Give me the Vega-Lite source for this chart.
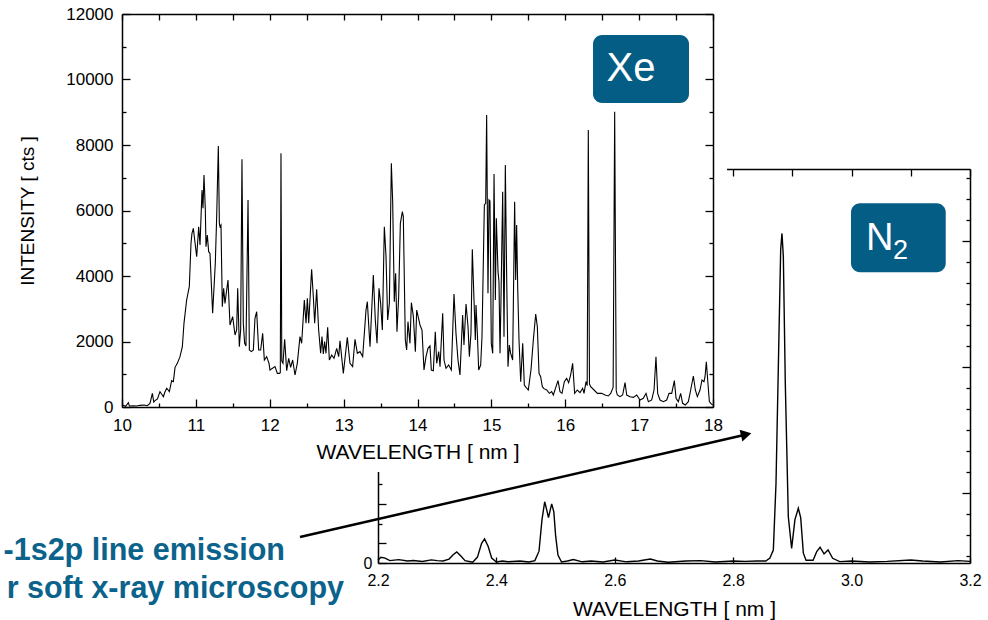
{
  "$schema": "https://vega.github.io/schema/vega-lite/v6.json",
  "width": 988,
  "height": 620,
  "padding": 0,
  "autosize": {"type": "none"},
  "background": "white",
  "config": {
    "view": {"stroke": null},
    "font": "Liberation Sans",
    "axis": {
      "grid": false,
      "labelFont": "Liberation Sans",
      "titleFont": "Liberation Sans",
      "labelColor": "#000",
      "titleColor": "#000",
      "tickColor": "#000",
      "domainColor": "#000",
      "titleFontWeight": "normal",
      "labelFlush": false,
      "labelOverlap": false,
      "labelBound": false,
      "domainWidth": 1.5,
      "tickWidth": 1.3
    }
  },
  "datasets": {
    "xe": [
      {"w":10.0,"i":40},{"w":10.018,"i":51},{"w":10.05,"i":20},{"w":10.086,"i":132},{"w":10.1,"i":30},{"w":10.15,"i":40},{"w":10.2,"i":30},{"w":10.244,"i":51},{"w":10.3,"i":60},{"w":10.34,"i":40},{"w":10.379,"i":112},{"w":10.411,"i":417},{"w":10.43,"i":150},{"w":10.447,"i":193},{"w":10.48,"i":250},{"w":10.514,"i":468},{"w":10.54,"i":380},{"w":10.56,"i":315},{"w":10.58,"i":450},{"w":10.605,"i":570},{"w":10.625,"i":520},{"w":10.641,"i":468},{"w":10.672,"i":804},{"w":10.695,"i":773},{"w":10.718,"i":1211},{"w":10.749,"i":1333},{"w":10.785,"i":1537},{"w":10.817,"i":1842},{"w":10.839,"i":2555},{"w":10.875,"i":3267},{"w":10.911,"i":3674},{"w":10.934,"i":4997},{"w":10.947,"i":5303},{"w":10.966,"i":5455},{"w":10.984,"i":5099},{"w":11.011,"i":4590},{"w":11.038,"i":5506},{"w":11.056,"i":4947},{"w":11.083,"i":6626},{"w":11.096,"i":6066},{"w":11.11,"i":7084},{"w":11.128,"i":6015},{"w":11.137,"i":4896},{"w":11.155,"i":5252},{"w":11.173,"i":4743},{"w":11.191,"i":4692},{"w":11.227,"i":2860},{"w":11.263,"i":4387},{"w":11.281,"i":5761},{"w":11.304,"i":7969},{"w":11.318,"i":5600},{"w":11.327,"i":5506},{"w":11.34,"i":5557},{"w":11.358,"i":3063},{"w":11.376,"i":3623},{"w":11.394,"i":3165},{"w":11.417,"i":3572},{"w":11.435,"i":3878},{"w":11.462,"i":2504},{"w":11.498,"i":2758},{"w":11.53,"i":2198},{"w":11.552,"i":2351},{"w":11.566,"i":3623},{"w":11.588,"i":1842},{"w":11.606,"i":2351},{"w":11.624,"i":7562},{"w":11.642,"i":2555},{"w":11.66,"i":1944},{"w":11.678,"i":1863},{"w":11.706,"i":6321},{"w":11.724,"i":1740},{"w":11.751,"i":1690},{"w":11.778,"i":1740},{"w":11.8,"i":2707},{"w":11.823,"i":2911},{"w":11.85,"i":1740},{"w":11.877,"i":1740},{"w":11.904,"i":2249},{"w":11.927,"i":1435},{"w":11.958,"i":1537},{"w":11.99,"i":1333},{"w":12.003,"i":1130},{"w":12.071,"i":1232},{"w":12.103,"i":1028},{"w":12.13,"i":1028},{"w":12.143,"i":1050},{"w":12.152,"i":7745},{"w":12.163,"i":1400},{"w":12.179,"i":1333},{"w":12.202,"i":2066},{"w":12.229,"i":1109},{"w":12.256,"i":1486},{"w":12.283,"i":1211},{"w":12.31,"i":1435},{"w":12.342,"i":977},{"w":12.373,"i":1333},{"w":12.409,"i":2148},{"w":12.432,"i":1944},{"w":12.468,"i":3267},{"w":12.491,"i":2555},{"w":12.509,"i":3318},{"w":12.527,"i":2555},{"w":12.567,"i":4204},{"w":12.59,"i":3369},{"w":12.608,"i":2555},{"w":12.635,"i":3593},{"w":12.662,"i":2351},{"w":12.689,"i":1639},{"w":12.707,"i":2148},{"w":12.725,"i":1618},{"w":12.743,"i":1995},{"w":12.761,"i":1639},{"w":12.784,"i":2433},{"w":12.807,"i":1435},{"w":12.838,"i":1588},{"w":12.87,"i":1486},{"w":12.906,"i":1791},{"w":12.933,"i":1537},{"w":12.951,"i":2025},{"w":12.996,"i":1028},{"w":13.05,"i":2127},{"w":13.086,"i":1333},{"w":13.122,"i":1232},{"w":13.154,"i":2066},{"w":13.186,"i":1639},{"w":13.222,"i":1690},{"w":13.258,"i":1537},{"w":13.303,"i":2962},{"w":13.321,"i":3216},{"w":13.357,"i":1842},{"w":13.402,"i":4030},{"w":13.429,"i":2656},{"w":13.452,"i":1944},{"w":13.479,"i":3623},{"w":13.501,"i":3165},{"w":13.524,"i":2351},{"w":13.551,"i":5506},{"w":13.574,"i":4590},{"w":13.596,"i":2656},{"w":13.619,"i":3165},{"w":13.646,"i":7440},{"w":13.664,"i":6270},{"w":13.686,"i":3216},{"w":13.704,"i":4081},{"w":13.722,"i":2300},{"w":13.745,"i":3369},{"w":13.768,"i":5608},{"w":13.795,"i":5964},{"w":13.808,"i":5812},{"w":13.835,"i":2046},{"w":13.853,"i":1740},{"w":13.871,"i":2606},{"w":13.898,"i":1944},{"w":13.917,"i":3186},{"w":13.944,"i":2758},{"w":13.971,"i":1690},{"w":13.989,"i":2962},{"w":14.034,"i":2504},{"w":14.061,"i":2351},{"w":14.088,"i":1130},{"w":14.115,"i":1537},{"w":14.142,"i":1791},{"w":14.169,"i":1863},{"w":14.187,"i":1130},{"w":14.214,"i":1109},{"w":14.241,"i":2300},{"w":14.26,"i":1333},{"w":14.287,"i":1690},{"w":14.305,"i":1232},{"w":14.341,"i":2860},{"w":14.359,"i":1435},{"w":14.386,"i":1181},{"w":14.422,"i":1282},{"w":14.458,"i":1130},{"w":14.494,"i":3450},{"w":14.521,"i":2249},{"w":14.548,"i":1435},{"w":14.575,"i":977},{"w":14.611,"i":2809},{"w":14.629,"i":1893},{"w":14.657,"i":3145},{"w":14.684,"i":2453},{"w":14.702,"i":1537},{"w":14.724,"i":2249},{"w":14.742,"i":4814},{"w":14.765,"i":3267},{"w":14.783,"i":2046},{"w":14.792,"i":3114},{"w":14.81,"i":2249},{"w":14.828,"i":1130},{"w":14.855,"i":1282},{"w":14.873,"i":2148},{"w":14.905,"i":6168},{"w":14.923,"i":6219},{"w":14.936,"i":8916},{"w":14.954,"i":3471},{"w":14.968,"i":6321},{"w":14.981,"i":6290},{"w":14.999,"i":1944},{"w":15.018,"i":1639},{"w":15.036,"i":7114},{"w":15.054,"i":3267},{"w":15.067,"i":5761},{"w":15.09,"i":4132},{"w":15.103,"i":3827},{"w":15.117,"i":1639},{"w":15.13,"i":3267},{"w":15.153,"i":6575},{"w":15.171,"i":2148},{"w":15.189,"i":7389},{"w":15.207,"i":3980},{"w":15.225,"i":1232},{"w":15.243,"i":1893},{"w":15.261,"i":1639},{"w":15.288,"i":1435},{"w":15.315,"i":6270},{"w":15.329,"i":3878},{"w":15.342,"i":5557},{"w":15.356,"i":3674},{"w":15.374,"i":2046},{"w":15.397,"i":773},{"w":15.424,"i":1944},{"w":15.446,"i":672},{"w":15.469,"i":601},{"w":15.5,"i":519},{"w":15.536,"i":1130},{"w":15.568,"i":2046},{"w":15.6,"i":2840},{"w":15.622,"i":2453},{"w":15.645,"i":1028},{"w":15.667,"i":926},{"w":15.69,"i":621},{"w":15.712,"i":560},{"w":15.749,"i":519},{"w":15.785,"i":417},{"w":15.816,"i":468},{"w":15.839,"i":366},{"w":15.875,"i":621},{"w":15.902,"i":804},{"w":15.929,"i":468},{"w":15.956,"i":417},{"w":15.988,"i":773},{"w":16.019,"i":875},{"w":16.046,"i":743},{"w":16.073,"i":977},{"w":16.1,"i":1333},{"w":16.127,"i":417},{"w":16.163,"i":519},{"w":16.2,"i":438},{"w":16.236,"i":570},{"w":16.254,"i":417},{"w":16.281,"i":773},{"w":16.297,"i":650},{"w":16.312,"i":8458},{"w":16.328,"i":700},{"w":16.344,"i":621},{"w":16.39,"i":519},{"w":16.435,"i":417},{"w":16.493,"i":417},{"w":16.538,"i":366},{"w":16.583,"i":336},{"w":16.615,"i":417},{"w":16.648,"i":600},{"w":16.669,"i":9018},{"w":16.69,"i":500},{"w":16.705,"i":366},{"w":16.741,"i":315},{"w":16.777,"i":366},{"w":16.809,"i":743},{"w":16.832,"i":366},{"w":16.877,"i":315},{"w":16.922,"i":295},{"w":16.967,"i":366},{"w":17.012,"i":214},{"w":17.057,"i":265},{"w":17.093,"i":417},{"w":17.125,"i":163},{"w":17.17,"i":214},{"w":17.202,"i":519},{"w":17.228,"i":1537},{"w":17.251,"i":417},{"w":17.283,"i":214},{"w":17.328,"i":163},{"w":17.373,"i":214},{"w":17.405,"i":417},{"w":17.441,"i":417},{"w":17.477,"i":804},{"w":17.5,"i":265},{"w":17.531,"i":163},{"w":17.562,"i":417},{"w":17.589,"i":112},{"w":17.625,"i":61},{"w":17.666,"i":163},{"w":17.698,"i":519},{"w":17.734,"i":947},{"w":17.761,"i":519},{"w":17.788,"i":315},{"w":17.824,"i":519},{"w":17.851,"i":824},{"w":17.878,"i":773},{"w":17.892,"i":926},{"w":17.91,"i":1384},{"w":17.928,"i":824},{"w":17.951,"i":163},{"w":17.969,"i":112},{"w":17.996,"i":61}
    ],
    "n2": [
      {"w":2.2,"i":0.15},{"w":2.205,"i":0.29},{"w":2.212,"i":0.25},{"w":2.22,"i":0.12},{"w":2.235,"i":0.17},{"w":2.25,"i":0.1},{"w":2.26,"i":0.13},{"w":2.275,"i":0.08},{"w":2.29,"i":0.16},{"w":2.3,"i":0.12},{"w":2.31,"i":0.1},{"w":2.32,"i":0.2},{"w":2.327,"i":0.42},{"w":2.333,"i":0.56},{"w":2.34,"i":0.35},{"w":2.347,"i":0.12},{"w":2.36,"i":0.04},{"w":2.368,"i":0.3},{"w":2.375,"i":1.0},{"w":2.38,"i":1.22},{"w":2.386,"i":0.85},{"w":2.392,"i":0.25},{"w":2.4,"i":0.05},{"w":2.41,"i":0.1},{"w":2.42,"i":0.06},{"w":2.44,"i":0.1},{"w":2.455,"i":0.05},{"w":2.465,"i":0.12},{"w":2.472,"i":0.6},{"w":2.477,"i":2.2},{"w":2.4816,"i":3.11},{"w":2.485,"i":2.7},{"w":2.488,"i":2.3},{"w":2.491,"i":2.7},{"w":2.4934,"i":3.0},{"w":2.497,"i":2.6},{"w":2.5,"i":1.4},{"w":2.504,"i":0.4},{"w":2.51,"i":0.05},{"w":2.52,"i":0.1},{"w":2.53,"i":0.18},{"w":2.545,"i":0.06},{"w":2.56,"i":0.1},{"w":2.58,"i":0.05},{"w":2.6,"i":0.15},{"w":2.62,"i":0.06},{"w":2.64,"i":0.1},{"w":2.66,"i":0.2},{"w":2.672,"i":0.1},{"w":2.69,"i":0.04},{"w":2.72,"i":0.1},{"w":2.745,"i":0.12},{"w":2.77,"i":0.05},{"w":2.8,"i":0.1},{"w":2.82,"i":0.08},{"w":2.84,"i":0.1},{"w":2.855,"i":0.1},{"w":2.862,"i":0.25},{"w":2.8678,"i":0.66},{"w":2.8723,"i":4.04},{"w":2.8768,"i":10.8},{"w":2.8802,"i":15.9},{"w":2.8824,"i":16.73},{"w":2.8847,"i":15.55},{"w":2.888,"i":9.12},{"w":2.8931,"i":2.35},{"w":2.8987,"i":0.74},{"w":2.9043,"i":2.2},{"w":2.91,"i":2.78},{"w":2.914,"i":2.3},{"w":2.9185,"i":0.5},{"w":2.923,"i":0.14},{"w":2.935,"i":0.14},{"w":2.9411,"i":0.58},{"w":2.9467,"i":0.8},{"w":2.9535,"i":0.46},{"w":2.9602,"i":0.66},{"w":2.968,"i":0.24},{"w":2.98,"i":0.07},{"w":3.0,"i":0.1},{"w":3.03,"i":0.05},{"w":3.06,"i":0.08},{"w":3.1,"i":0.15},{"w":3.12,"i":0.1},{"w":3.15,"i":0.05},{"w":3.18,"i":0.12},{"w":3.2,"i":0.08}
    ],
    "xeAx": [{"w": 10, "i": 0}],
    "n2Ax": [{"w": 2.2, "i": 0}],
    "cover": [{"x1": 9.5, "x2": 18.19, "y1": -1985, "y2": 12000}],
    "xeBox": [{"x1": 16.376, "x2": 17.675, "y1": 9282, "y2": 11359, "x": 16.89, "y": 9963, "t": "Xe"}],
    "arrow": [{"x1": 12.4095, "y1": -3969, "x2": 18.406, "y2": -861}],
    "head": [{"x": 18.449, "y": -837}],
    "blue": [{"x": 12.206, "y": -4672, "t": "-1s2p line emission"}, {"x": 13.005, "y": -5832, "t": "r soft x-ray microscopy"}],
    "n2Box": [{"x1": 2.999, "x2": 3.159, "y1": 14.76, "y2": 18.26}],
    "n2N": [{"x": 3.0243, "y": 15.89, "t": "N"}],
    "n2Sub": [{"x": 3.0699, "y": 15.43, "t": "2"}]
  },
  "resolve": {"scale": {"x": "independent", "y": "independent"}, "axis": {"x": "independent", "y": "independent"}},
  "layer": [
    {
      "resolve": {"axis": {"x": "independent", "y": "independent"}},
      "layer": [
        {
          "data": {"name": "n2"},
          "mark": {"type": "line", "color": "#000", "strokeWidth": 1.4},
          "encoding": {
            "x": {"field": "w", "type": "quantitative", "scale": {"domain": [2.2, 3.2], "range": [378, 970], "nice": false, "zero": false},
              "axis": {"orient": "bottom", "offset": -57, "values": [2.2, 2.4, 2.6, 2.8, 3.0, 3.2], "format": ".1f", "tickSize": -6, "labelFontSize": 16, "labelPadding": 15, "title": "WAVELENGTH [ nm ]", "titleFontSize": 21, "titlePadding": 10, "zindex": 0}},
            "y": {"field": "i", "type": "quantitative", "scale": {"domain": [0, 20], "range": [563, 169], "nice": false, "zero": false},
              "axis": {"orient": "left", "offset": -378, "values": [0, 1, 3, 5, 7, 9, 11, 13, 15, 17, 19], "labelExpr": "datum.value == 0 ? '0' : ''", "tickSize": -8, "labelFontSize": 16, "labelPadding": 14, "title": null, "zindex": 0}}
          }
        },
        {
          "data": {"name": "n2Ax"},
          "mark": {"type": "point", "opacity": 0},
          "encoding": {
            "x": {"field": "w", "type": "quantitative", "scale": {"domain": [2.2, 3.2], "range": [378, 970], "nice": false, "zero": false},
              "axis": {"orient": "top", "offset": -169, "values": [2.2, 2.3, 2.4, 2.5, 2.6, 2.7, 2.8, 2.9, 3.0, 3.1, 3.2], "tickSize": -7, "labels": false, "title": null, "zindex": 0}},
            "y": {"field": "i", "type": "quantitative", "scale": {"domain": [0, 20], "range": [563, 169], "nice": false, "zero": false},
              "axis": {"orient": "right", "offset": -18, "values": [3.55, 9.95, 16.35], "tickSize": -8, "labels": false, "title": null, "zindex": 0}}
          }
        },
        {
          "data": {"name": "n2Ax"},
          "mark": {"type": "point", "opacity": 0},
          "encoding": {
            "x": {"field": "w", "type": "quantitative", "scale": {"domain": [2.2, 3.2], "range": [378, 970], "nice": false, "zero": false}, "axis": null},
            "y": {"field": "i", "type": "quantitative", "scale": {"domain": [0, 20], "range": [563, 169], "nice": false, "zero": false},
              "axis": {"orient": "left", "offset": -378, "values": [2, 4, 6, 8, 10, 12, 14, 16, 18], "tickSize": -4, "labels": false, "domain": false, "title": null, "zindex": 0}}
          }
        },
        {
          "data": {"name": "n2Ax"},
          "mark": {"type": "point", "opacity": 0},
          "encoding": {
            "x": {"field": "w", "type": "quantitative", "scale": {"domain": [2.2, 3.2], "range": [378, 970], "nice": false, "zero": false}, "axis": null},
            "y": {"field": "i", "type": "quantitative", "scale": {"domain": [0, 20], "range": [563, 169], "nice": false, "zero": false},
              "axis": {"orient": "right", "offset": -18, "values": [0.35, 1.417, 2.483, 4.617, 5.683, 6.75, 7.817, 8.883, 11.017, 12.083, 13.15, 14.217, 15.283, 17.417, 18.483, 19.55], "tickSize": -4, "labels": false, "domain": false, "title": null, "zindex": 0}}
          }
        },
        {
          "data": {"name": "n2Box"},
          "mark": {"type": "rect", "color": "#035d84", "cornerRadius": 9},
          "encoding": {
            "x": {"field": "x1", "type": "quantitative", "scale": {"domain": [2.2, 3.2], "range": [378, 970], "nice": false, "zero": false}, "axis": null},
            "x2": {"field": "x2"},
            "y": {"field": "y1", "type": "quantitative", "scale": {"domain": [0, 20], "range": [563, 169], "nice": false, "zero": false}, "axis": null},
            "y2": {"field": "y2"}
          }
        },
        {
          "data": {"name": "n2N"},
          "mark": {"type": "text", "color": "white", "fontSize": 38, "align": "left", "baseline": "alphabetic", "font": "Liberation Sans"},
          "encoding": {
            "x": {"field": "x", "type": "quantitative", "scale": {"domain": [2.2, 3.2], "range": [378, 970], "nice": false, "zero": false}, "axis": null},
            "y": {"field": "y", "type": "quantitative", "scale": {"domain": [0, 20], "range": [563, 169], "nice": false, "zero": false}, "axis": null},
            "text": {"field": "t"}
          }
        },
        {
          "data": {"name": "n2Sub"},
          "mark": {"type": "text", "color": "white", "fontSize": 27, "align": "left", "baseline": "alphabetic", "font": "Liberation Sans"},
          "encoding": {
            "x": {"field": "x", "type": "quantitative", "scale": {"domain": [2.2, 3.2], "range": [378, 970], "nice": false, "zero": false}, "axis": null},
            "y": {"field": "y", "type": "quantitative", "scale": {"domain": [0, 20], "range": [563, 169], "nice": false, "zero": false}, "axis": null},
            "text": {"field": "t"}
          }
        }
      ]
    },
    {
      "resolve": {"axis": {"x": "independent", "y": "independent"}},
      "layer": [
        {
          "data": {"name": "cover"},
          "mark": {"type": "rect", "color": "white"},
          "encoding": {
            "x": {"field": "x1", "type": "quantitative", "scale": {"domain": [10, 18], "range": [122, 713], "nice": false, "zero": false}, "axis": null},
            "x2": {"field": "x2"},
            "y": {"field": "y1", "type": "quantitative", "scale": {"domain": [0, 12000], "range": [407, 14], "nice": false, "zero": false}, "axis": null},
            "y2": {"field": "y2"}
          }
        },
        {
          "data": {"name": "xe"},
          "mark": {"type": "line", "color": "#000", "strokeWidth": 1.1},
          "encoding": {
            "x": {"field": "w", "type": "quantitative", "scale": {"domain": [10, 18], "range": [122, 713], "nice": false, "zero": false},
              "axis": {"orient": "bottom", "offset": -213, "values": [10, 11, 12, 13, 14, 15, 16, 17, 18], "format": "d", "tickSize": -8, "labelFontSize": 17, "labelPadding": 18, "title": "WAVELENGTH [ nm ]", "titleFontSize": 21, "titlePadding": 8, "zindex": 1}},
            "y": {"field": "i", "type": "quantitative", "scale": {"domain": [0, 12000], "range": [407, 14], "nice": false, "zero": false},
              "axis": {"orient": "left", "offset": -122, "values": [0, 2000, 4000, 6000, 8000, 10000, 12000], "format": "d", "tickSize": -8, "labelFontSize": 17, "labelPadding": 17, "title": "INTENSITY [ cts ]", "titleFontSize": 19, "titlePadding": 28, "zindex": 1}}
          }
        },
        {
          "data": {"name": "xeAx"},
          "mark": {"type": "point", "opacity": 0},
          "encoding": {
            "x": {"field": "w", "type": "quantitative", "scale": {"domain": [10, 18], "range": [122, 713], "nice": false, "zero": false},
              "axis": {"orient": "bottom", "offset": -213, "values": [10.5, 11.5, 12.5, 13.5, 14.5, 15.5, 16.5, 17.5], "tickSize": -4, "labels": false, "domain": false, "title": null, "zindex": 1}},
            "y": {"field": "i", "type": "quantitative", "scale": {"domain": [0, 12000], "range": [407, 14], "nice": false, "zero": false},
              "axis": {"orient": "left", "offset": -122, "values": [1000, 3000, 5000, 7000, 9000, 11000], "tickSize": -4, "labels": false, "domain": false, "title": null, "zindex": 1}}
          }
        },
        {
          "data": {"name": "xeAx"},
          "mark": {"type": "point", "opacity": 0},
          "encoding": {
            "x": {"field": "w", "type": "quantitative", "scale": {"domain": [10, 18], "range": [122, 713], "nice": false, "zero": false},
              "axis": {"orient": "top", "offset": -14, "values": [10, 10.5, 11, 11.5, 12, 12.5, 13, 13.5, 14, 14.5, 15, 15.5, 16, 16.5, 17, 17.5, 18], "tickSize": -6, "labels": false, "title": null, "zindex": 1}},
            "y": {"field": "i", "type": "quantitative", "scale": {"domain": [0, 12000], "range": [407, 14], "nice": false, "zero": false},
              "axis": {"orient": "right", "offset": -275, "values": [0, 2000, 4000, 6000, 8000, 10000, 12000], "tickSize": -8, "labels": false, "title": null, "zindex": 1}}
          }
        },
        {
          "data": {"name": "xeAx"},
          "mark": {"type": "point", "opacity": 0},
          "encoding": {
            "x": {"field": "w", "type": "quantitative", "scale": {"domain": [10, 18], "range": [122, 713], "nice": false, "zero": false}, "axis": null},
            "y": {"field": "i", "type": "quantitative", "scale": {"domain": [0, 12000], "range": [407, 14], "nice": false, "zero": false},
              "axis": {"orient": "right", "offset": -275, "values": [1000, 3000, 5000, 7000, 9000, 11000], "tickSize": -4, "labels": false, "domain": false, "title": null, "zindex": 1}}
          }
        },
        {
          "data": {"name": "xeBox"},
          "mark": {"type": "rect", "color": "#035d84", "cornerRadius": 9},
          "encoding": {
            "x": {"field": "x1", "type": "quantitative", "scale": {"domain": [10, 18], "range": [122, 713], "nice": false, "zero": false}, "axis": null},
            "x2": {"field": "x2"},
            "y": {"field": "y1", "type": "quantitative", "scale": {"domain": [0, 12000], "range": [407, 14], "nice": false, "zero": false}, "axis": null},
            "y2": {"field": "y2"}
          }
        },
        {
          "data": {"name": "xeBox"},
          "mark": {"type": "text", "color": "white", "fontSize": 40, "align": "center", "baseline": "alphabetic", "font": "Liberation Sans"},
          "encoding": {
            "x": {"field": "x", "type": "quantitative", "scale": {"domain": [10, 18], "range": [122, 713], "nice": false, "zero": false}, "axis": null},
            "y": {"field": "y", "type": "quantitative", "scale": {"domain": [0, 12000], "range": [407, 14], "nice": false, "zero": false}, "axis": null},
            "text": {"field": "t"}
          }
        },
        {
          "data": {"name": "arrow"},
          "mark": {"type": "rule", "color": "#000", "strokeWidth": 2.5},
          "encoding": {
            "x": {"field": "x1", "type": "quantitative", "scale": {"domain": [10, 18], "range": [122, 713], "nice": false, "zero": false}, "axis": null},
            "x2": {"field": "x2"},
            "y": {"field": "y1", "type": "quantitative", "scale": {"domain": [0, 12000], "range": [407, 14], "nice": false, "zero": false}, "axis": null},
            "y2": {"field": "y2"}
          }
        },
        {
          "data": {"name": "head"},
          "mark": {"type": "point", "shape": "triangle-right", "filled": true, "color": "#000", "opacity": 1, "size": 150, "angle": 347},
          "encoding": {
            "x": {"field": "x", "type": "quantitative", "scale": {"domain": [10, 18], "range": [122, 713], "nice": false, "zero": false}, "axis": null},
            "y": {"field": "y", "type": "quantitative", "scale": {"domain": [0, 12000], "range": [407, 14], "nice": false, "zero": false}, "axis": null}
          }
        },
        {
          "data": {"name": "blue"},
          "mark": {"type": "text", "color": "#0b628b", "fontSize": 30.5, "fontWeight": "bold", "align": "right", "baseline": "alphabetic", "font": "Liberation Sans"},
          "encoding": {
            "x": {"field": "x", "type": "quantitative", "scale": {"domain": [10, 18], "range": [122, 713], "nice": false, "zero": false}, "axis": null},
            "y": {"field": "y", "type": "quantitative", "scale": {"domain": [0, 12000], "range": [407, 14], "nice": false, "zero": false}, "axis": null},
            "text": {"field": "t"}
          }
        }
      ]
    }
  ]
}
